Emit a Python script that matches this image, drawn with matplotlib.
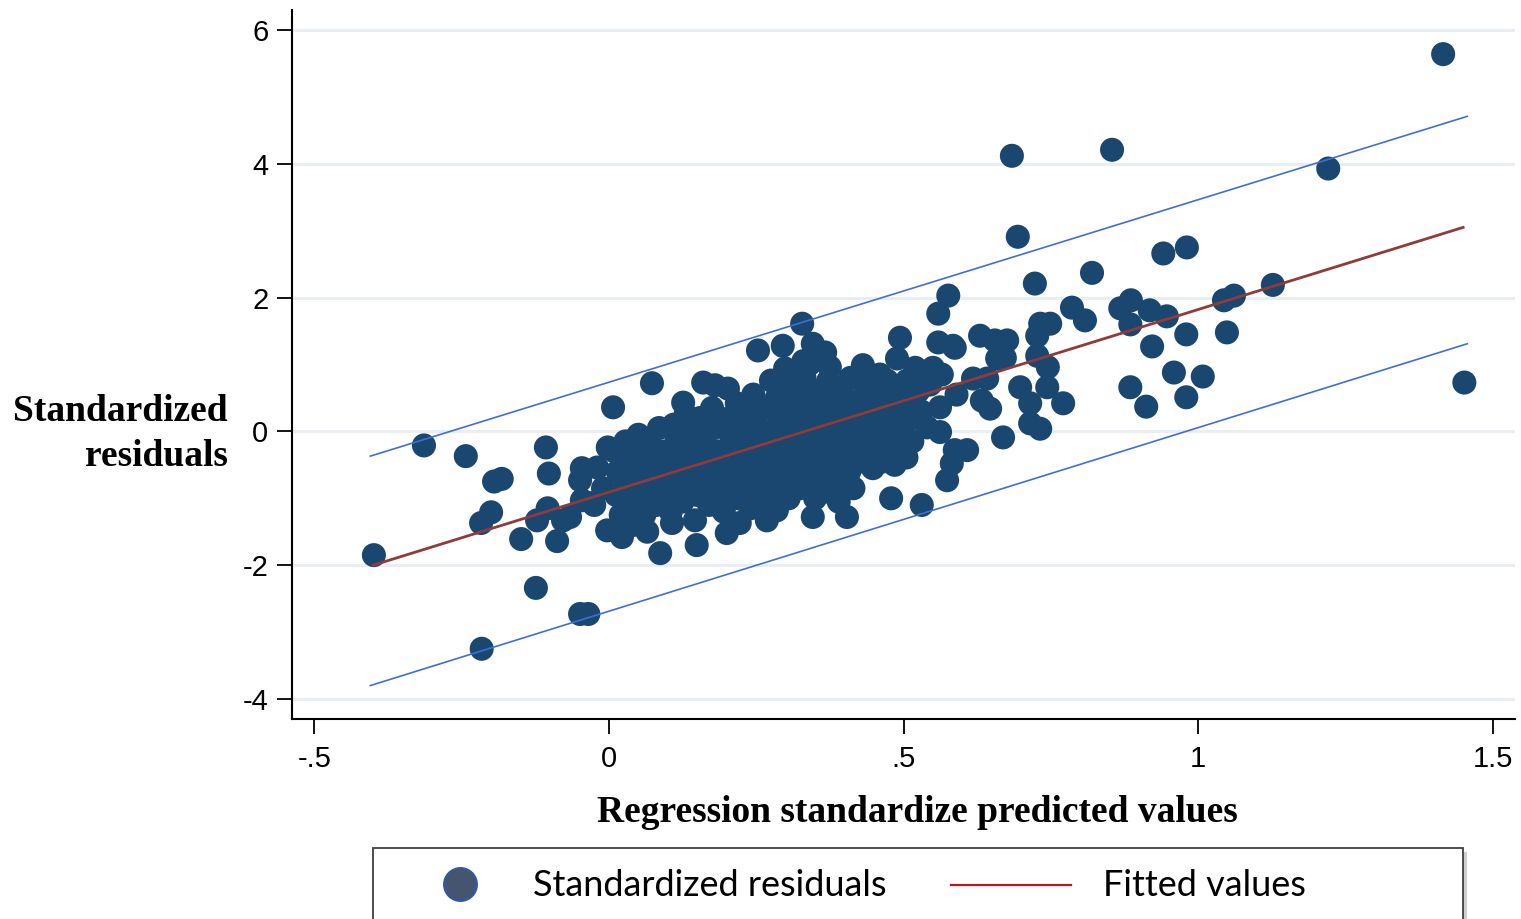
import matplotlib
matplotlib.use("Agg")
import matplotlib.pyplot as plt
from matplotlib.patches import Rectangle
from matplotlib.lines import Line2D

# ---- data -------------------------------------------------------------
# lower tail of predicted values
left_pred = [-0.399, -0.314, -0.243, -0.195, -0.182, -0.200, -0.217, -0.149, -0.124,
             -0.216, -0.049, -0.035, -0.107, -0.102, -0.122, -0.104, -0.088, -0.078,
             -0.066, -0.046, -0.049, -0.046, -0.027, -0.020, -0.025, -0.010, -0.003,
             -0.002, 0.007]
left_resid = [-1.85, -0.21, -0.37, -0.75, -0.71, -1.21, -1.37, -1.61, -2.34,
              -3.25, -2.73, -2.73, -0.24, -0.63, -1.33, -1.15, -1.64, -1.33,
              -1.28, -0.55, -0.73, -1.03, -1.07, -0.54, -1.10, -0.85, -1.48,
              -0.24, 0.36]

# central cluster
core_pred = [0.010, 0.015, 0.012, 0.020, 0.022, 0.030, 0.035, 0.038, 0.040, 0.028,
             0.050, 0.055, 0.052, 0.058, 0.060, 0.065, 0.070, 0.075, 0.078, 0.080,
             0.073, 0.085, 0.087,
             0.095, 0.098, 0.100, 0.105, 0.107, 0.110, 0.115, 0.118, 0.120, 0.125,
             0.126, 0.130,
             0.140, 0.142, 0.145, 0.146, 0.149, 0.150, 0.155, 0.160, 0.162, 0.165,
             0.168, 0.170, 0.175, 0.180, 0.178,
             0.185, 0.188, 0.190, 0.195, 0.200, 0.202, 0.205, 0.208, 0.210, 0.213,
             0.217, 0.220, 0.222, 0.225, 0.228,
             0.232, 0.235, 0.238, 0.240, 0.245, 0.248, 0.250, 0.253, 0.255, 0.258,
             0.261, 0.265, 0.268, 0.270, 0.272,
             0.275, 0.278, 0.280, 0.285, 0.285, 0.290, 0.292, 0.295, 0.299, 0.300,
             0.303, 0.305, 0.310, 0.312, 0.315, 0.318, 0.320, 0.324,
             0.328, 0.330, 0.332, 0.335, 0.338, 0.340, 0.341, 0.343, 0.345, 0.346,
             0.346, 0.350, 0.352, 0.355, 0.358, 0.360, 0.362, 0.367, 0.368,
             0.375, 0.372, 0.378, 0.380, 0.382, 0.385, 0.388, 0.390, 0.395, 0.398,
             0.400, 0.404, 0.405, 0.408, 0.410, 0.415, 0.418, 0.420,
             0.425, 0.428, 0.431, 0.435, 0.438, 0.443, 0.445, 0.448, 0.452, 0.455,
             0.460, 0.462, 0.465, 0.472, 0.470,
             0.475, 0.479, 0.480, 0.485, 0.489, 0.490, 0.494, 0.495, 0.500, 0.506,
             0.505, 0.506, 0.510, 0.515, 0.520]
core_resid = [-0.30, -0.60, -0.95, -1.25, -1.58, -0.45, -0.80, -1.10, -1.40, -0.15,
              -0.05, -0.35, -0.65, -0.95, -1.25, -1.50, -0.20, -0.50, -0.80, -1.10,
              0.72, 0.05, -1.82,
              -0.30, -0.60, -0.90, -1.20, -1.37, 0.10, -0.15, -0.45, -0.75, -1.05,
              0.43, 0.25,
              -0.05, -0.35, -0.65, -1.33, -1.70, -0.95, 0.20, 0.73, -0.20, -0.50,
              -0.80, -1.10, 0.35, 0.69, 0.05,
              -0.30, -0.60, -0.90, -1.20, -1.52, 0.64, 0.20, -0.10, -0.40, -0.70,
              0.42, -1.00, -1.37, 0.05, -0.25,
              0.30, -0.55, -0.85, -1.15, 0.55, 0.10, -0.20, 1.21, -0.50, -0.80,
              -1.05, 0.35, -1.33, 0.00, -0.30,
              0.76, -0.60, -0.90, -1.18, 0.50, 0.20, -0.10, 1.28, 0.94, -0.40,
              -0.70, -1.00, 0.65, 0.35, 0.05, -0.25, -0.55, -0.85,
              1.61, 1.05, 0.80, 0.45, 0.15, -0.15, 1.01, -0.45, -0.75, -1.28,
              1.31, -1.00, 0.60, 0.30, 0.00, -0.30, -0.60, 1.18, -0.90,
              0.96, 0.75, 0.45, 0.15, -0.15, -0.45, -0.75, -1.05, 0.60, 0.30,
              0.00, -1.28, -0.30, -0.60, 0.80, -0.85, 0.45, 0.15,
              -0.15, -0.45, 0.99, 0.70, 0.35, -0.03, -0.30, -0.55, 0.55, 0.20,
              0.85, -0.15, -0.45, 0.76, 0.40,
              0.10, -1.00, -0.20, -0.50, 1.09, 0.55, 1.40, 0.25, -0.05, 0.76,
              -0.39, 0.16, 0.45, -0.15, 0.95]

# upper part of predicted values
right_pred = [0.525, 0.531, 0.530, 0.540, 0.545, 0.550, 0.559, 0.559, 0.562, 0.562,
              0.565, 0.574, 0.576, 0.582, 0.584, 0.587, 0.587, 0.590, 0.608, 0.618,
              0.630, 0.633, 0.642, 0.647, 0.655, 0.659, 0.669, 0.669, 0.672, 0.676,
              0.684, 0.694, 0.698, 0.715, 0.715, 0.723, 0.727, 0.727, 0.732, 0.732,
              0.744, 0.745, 0.749, 0.771, 0.786, 0.808, 0.820, 0.854, 0.868, 0.886,
              0.885, 0.885, 0.912, 0.918, 0.922, 0.941, 0.947, 0.959, 0.980, 0.980,
              0.981, 1.008, 1.044, 1.049, 1.061, 1.127, 1.221, 1.416, 1.452]
right_resid = [0.60, -1.10, 0.30, 0.06, 0.70, 0.95, 1.33, 1.76, 0.36, -0.01,
               0.85, -0.73, 2.03, -0.48, 1.28, 1.25, -0.28, 0.55, -0.28, 0.79,
               1.43, 0.46, 0.79, 0.34, 1.36, 1.09, 1.33, -0.09, 1.10, 1.36,
               4.12, 2.91, 0.66, 0.42, 0.12, 2.21, 1.43, 1.13, 1.61, 0.04,
               0.66, 0.96, 1.61, 0.42, 1.85, 1.66, 2.37, 4.21, 1.84, 1.96,
               1.60, 0.66, 0.37, 1.81, 1.27, 2.66, 1.72, 0.88, 1.45, 0.51,
               2.75, 0.82, 1.96, 1.48, 2.03, 2.19, 3.93, 5.64, 0.73]

# fitted line and the two bands, given at their end points
line_x = [-0.400, 1.450]
fitted_y = [-2.00, 3.05]
band_x = [-0.405, 1.457]
upper_y = [-0.37, 4.71]
lower_y = [-3.80, 1.31]

x_ticks = [-0.5, 0, 0.5, 1, 1.5]
x_tick_labels = ["-.5", "0", ".5", "1", "1.5"]
y_ticks = [-4, -2, 0, 2, 4, 6]

# ---- styling ----------------------------------------------------------
NAVY = "#1a476f"
MAROON = "#903a3a"
BAND = "#3f6fd6"
GRID = "#e8eef2"

W, H = 1521, 919
fig = plt.figure(figsize=(W / 100, H / 100), dpi=100)
ax = fig.add_axes([292 / W, 1 - 719 / H, (1515 - 292) / W, (719 - 10) / H])

ax.set_xlim(-0.538, 1.538)
ax.set_ylim(-4.30, 6.30)

for yt in y_ticks:
    ax.axhline(yt, color=GRID, lw=2.2, zorder=0)

px = left_pred + core_pred + right_pred
ry = left_resid + core_resid + right_resid
ax.scatter(px, ry, s=300, color=NAVY, edgecolors="none", zorder=3)

ax.plot(band_x, upper_y, color=BAND, lw=1.2, zorder=4)
ax.plot(band_x, lower_y, color=BAND, lw=1.2, zorder=4)
ax.plot(line_x, fitted_y, color=MAROON, lw=2.0, zorder=5)

for side in ("top", "right"):
    ax.spines[side].set_visible(False)
for side in ("left", "bottom"):
    ax.spines[side].set_linewidth(1.5)
    ax.spines[side].set_color("black")

tick_font = dict(family="Liberation Sans", size=21)
ax.set_xticks(x_ticks)
ax.set_xticklabels(x_tick_labels, **tick_font)
ax.set_yticks(y_ticks)
ax.set_yticklabels([str(v) for v in y_ticks], **tick_font)
ax.tick_params(axis="both", direction="out", length=11, width=1.3, color="black")
ax.tick_params(axis="x", pad=8)
ax.tick_params(axis="y", pad=6)

title_font = dict(family="Liberation Serif", weight="bold", size=27)
fig.text(917 / W, 1 - 812 / H, "Regression standardize predicted values",
         ha="center", va="center", **title_font)
fig.text(228 / W, 1 - 434 / H, "Standardized\nresiduals", ha="right",
         va="center", multialignment="right", linespacing=1.35, **title_font)

# legend box drawn in figure pixels
leg_ax = fig.add_axes([0, 0, 1, 1], facecolor="none")
leg_ax.set_xlim(0, W)
leg_ax.set_ylim(H, 0)
leg_ax.axis("off")
leg_ax.add_patch(Rectangle((377, 852), 1090, 80, facecolor="#b0b0b0",
                           edgecolor="none", alpha=0.6, zorder=1))
leg_ax.add_patch(Rectangle((373, 848), 1090, 80, facecolor="white",
                           edgecolor="#404040", lw=1.3, zorder=2))
leg_ax.scatter([460], [884], s=560, color="#46546f", edgecolors="#2f5aa8",
               linewidths=1.5, zorder=3)
leg_ax.text(533, 885, "Standardized residuals", ha="left", va="center",
            family="Lato", size=26, zorder=3)
leg_ax.add_line(Line2D([951, 1071], [885, 885], color="#c0141c", lw=1.6, zorder=3))
leg_ax.text(1103, 885, "Fitted values", ha="left", va="center",
            family="Lato", size=26, zorder=3)

fig.savefig("out.png", dpi=100, facecolor="white")
